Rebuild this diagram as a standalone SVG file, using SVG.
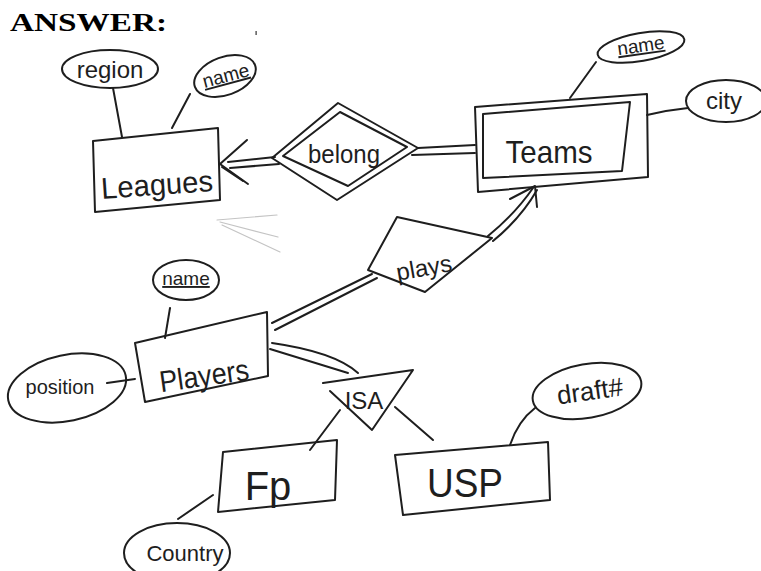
<svg xmlns="http://www.w3.org/2000/svg" width="761" height="571" viewBox="0 0 761 571">
  <style>
    .ln { fill: none; stroke: #1e1e1e; stroke-width: 2; stroke-linecap: round; stroke-linejoin: round; }
    .faint { fill: none; stroke: #c4c4c4; stroke-width: 1.2; stroke-linecap: round; }
    .hw { font-family: "Liberation Sans", "DejaVu Sans", sans-serif; fill: #1e1e1e; text-anchor: middle; }
    .ul { text-decoration: underline; }
    .title { font-family: "Liberation Serif", "DejaVu Serif", serif; font-weight: bold; font-size: 26px; fill: #000; }
  </style>
  <rect x="0" y="0" width="761" height="571" fill="#ffffff"/>

  <text class="title" x="10" y="31" textLength="157" lengthAdjust="spacingAndGlyphs">ANSWER:</text>
  <rect x="255.5" y="31" width="1.2" height="4" fill="#333"/>

  <!-- connectors -->
  <g id="connectors">
    <path class="ln" d="M113,88 L122,137"/>
    <path class="ln" d="M190,94 L172,128"/>
    <!-- belong to Leagues, double line with arrow -->
    <path class="ln" d="M275,157 L228,162"/>
    <path class="ln" d="M279,164 L230,168"/>
    <path class="ln" d="M247,140 L220,164 L248,184"/>
    <path class="ln" d="M243,181 L222,167"/>
    <!-- belong to Teams -->
    <path class="ln" d="M418,148 L475,145"/>
    <path class="ln" d="M412,155 L475,153"/>
    <path class="ln" d="M596,62 L570,98"/>
    <path class="ln" d="M647,115 Q668,110 688,108"/>
    <!-- plays to Teams with arrow -->
    <path class="ln" d="M488,236 Q515,214 533,188"/>
    <path class="ln" d="M493,241 Q521,218 537,190"/>
    <path class="ln" d="M510,199 L535,186 L537,207"/>
    <!-- Players to plays -->
    <path class="ln" d="M272,323 L372,274"/>
    <path class="ln" d="M275,330 L377,278"/>
    <path class="ln" d="M170,308 L165,338"/>
    <path class="ln" d="M107,383 L135,379"/>
    <!-- Players to ISA -->
    <path class="ln" d="M272,343 Q335,352 358,373"/>
    <path class="ln" d="M270,349 L348,373"/>
    <path class="ln" d="M340,410 L310,450"/>
    <path class="ln" d="M395,407 L433,440"/>
    <path class="ln" d="M510,445 Q518,421 535,408"/>
    <path class="ln" d="M213,495 L178,519"/>
    <!-- erased strokes -->
    <path class="faint" d="M217,220 L277,215"/>
    <path class="faint" d="M220,222 L278,237"/>
    <path class="faint" d="M222,225 L280,252"/>
  </g>

  <g id="leagues">
    <path class="ln" d="M93,141 L218,128 L220,200 L95,212 Z"/>
    <text class="hw" x="157" y="195" font-size="30" textLength="112" lengthAdjust="spacingAndGlyphs" transform="rotate(-4 157 185)">Leagues</text>
  </g>
  <g id="leagues-region">
    <ellipse class="ln" cx="110" cy="69" rx="48" ry="19"/>
    <text class="hw" x="110" y="78" font-size="24">region</text>
  </g>
  <g id="leagues-name">
    <ellipse class="ln" cx="225" cy="76" rx="32" ry="19" transform="rotate(-20 225 76)"/>
    <text class="hw ul" x="226" y="82" font-size="19" transform="rotate(-15 226 76)">name</text>
  </g>

  <g id="belong">
    <path class="ln" d="M272,158 L338,103 L418,148 L337,200 Z"/>
    <path class="ln" d="M283,156 L340,112 L407,147 L348,186 Z"/>
    <text class="hw" x="344" y="163" font-size="26" textLength="72" lengthAdjust="spacingAndGlyphs">belong</text>
  </g>

  <g id="teams">
    <path class="ln" d="M475,107 L647,94 L648,177 L478,192 Z"/>
    <path class="ln" d="M483,114 L630,102 L622,171 L483,178 Z"/>
    <text class="hw" x="549" y="163" font-size="32" textLength="87" lengthAdjust="spacingAndGlyphs">Teams</text>
  </g>
  <g id="teams-name">
    <ellipse class="ln" cx="641" cy="47" rx="44" ry="14" transform="rotate(-10 641 47)"/>
    <text class="hw ul" x="641" y="52" font-size="19" transform="rotate(-8 641 47)">name</text>
  </g>
  <g id="teams-city">
    <ellipse class="ln" cx="726" cy="101" rx="40" ry="21"/>
    <text class="hw" x="724" y="109" font-size="24">city</text>
  </g>

  <g id="plays">
    <path class="ln" d="M368,270 L397,217 L492,238 L425,292 Z"/>
    <text class="hw" x="424" y="276" font-size="24" transform="rotate(-10 424 268)">plays</text>
  </g>

  <g id="players">
    <path class="ln" d="M135,343 L267,312 L268,376 L145,402 Z"/>
    <text class="hw" x="204" y="386" font-size="30" textLength="90" lengthAdjust="spacingAndGlyphs" transform="rotate(-8 204 375)">Players</text>
  </g>
  <g id="players-name">
    <ellipse class="ln" cx="186" cy="280" rx="33" ry="20"/>
    <text class="hw ul" x="186" y="285" font-size="19">name</text>
  </g>
  <g id="players-position">
    <ellipse class="ln" cx="67" cy="388" rx="60" ry="33" transform="rotate(-12 67 388)"/>
    <text class="hw" x="60" y="394" font-size="20">position</text>
  </g>

  <g id="isa">
    <path class="ln" d="M323,383 L413,370 L372,430 L330,391"/>
    <text class="hw" x="364" y="409" font-size="24">ISA</text>
  </g>

  <g id="fp">
    <path class="ln" d="M223,452 L337,440 L335,500 L218,512 Z"/>
    <text class="hw" x="268" y="500" font-size="40">Fp</text>
  </g>
  <g id="fp-country">
    <ellipse class="ln" cx="177" cy="553" rx="53" ry="30"/>
    <text class="hw" x="185" y="561" font-size="22">Country</text>
  </g>

  <g id="usp">
    <path class="ln" d="M395,455 L548,442 L550,500 L403,515 Z"/>
    <text class="hw" x="465" y="497" font-size="40" textLength="76" lengthAdjust="spacingAndGlyphs">USP</text>
  </g>
  <g id="usp-draft">
    <ellipse class="ln" cx="587" cy="391" rx="55" ry="27" transform="rotate(-10 587 391)"/>
    <text class="hw" x="590" y="400" font-size="26" transform="rotate(-8 590 392)">draft#</text>
  </g>
</svg>
